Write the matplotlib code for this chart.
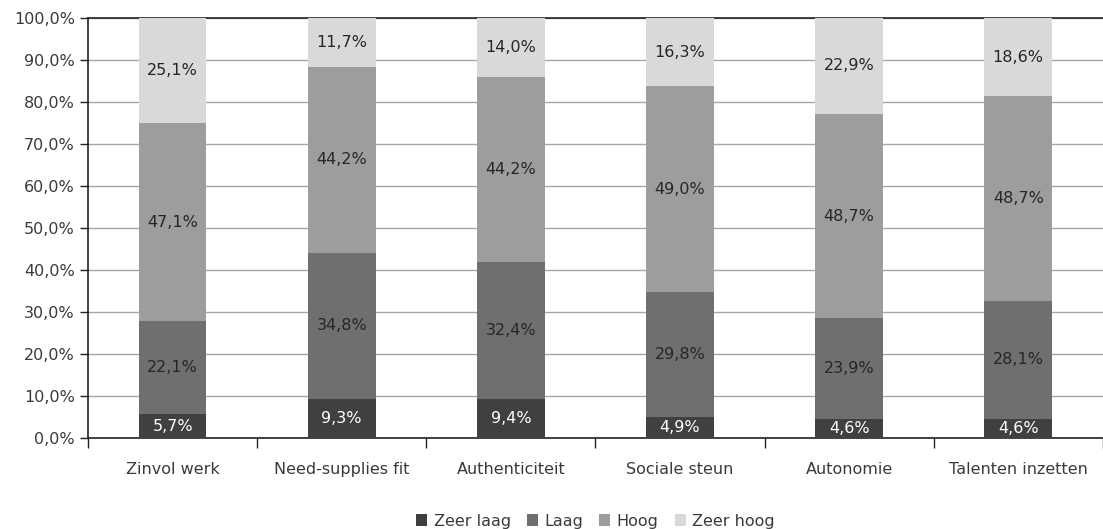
import matplotlib.pyplot as plt
import numpy as np
from matplotlib.ticker import FuncFormatter

# Categorieën en percentages per niveau
categories = ['Zinvol werk', 'Need-supplies fit', 'Authenticiteit',
              'Sociale steun', 'Autonomie', 'Talenten inzetten']
levels = ['Zeer laag', 'Laag', 'Hoog', 'Zeer hoog']
zeer_laag = [5.7, 9.3, 9.4, 4.9, 4.6, 4.6]
laag = [22.1, 34.8, 32.4, 29.8, 23.9, 28.1]
hoog = [47.1, 44.2, 44.2, 49.0, 48.7, 48.7]
zeer_hoog = [25.1, 11.7, 14.0, 16.3, 22.9, 18.6]

colors = ['#404040', '#6f6f6f', '#9d9d9d', '#d9d9d9']
label_colors = ['white', '#262626', '#262626', '#262626']

plt.rcParams['font.family'] = ['DejaVu Sans']
text_color = '#3a3a3a'
fs = 11.5

fig = plt.figure(figsize=(11.03, 5.29), dpi=100)
ax = fig.add_axes([0.0798, 0.172, 0.92, 0.794])

x = np.arange(len(categories))
bottom = np.zeros(len(categories))
for serie, name, col, lcol in zip([zeer_laag, laag, hoog, zeer_hoog], levels, colors, label_colors):
    vals = np.array(serie)
    ax.bar(x, vals, 0.4, bottom=bottom, color=col, label=name, zorder=3)
    for xi, b, v in zip(x, bottom, vals):
        ax.text(xi, b + v / 2, f'{v:.1f}%'.replace('.', ','), ha='center', va='center',
                color=lcol, fontsize=fs, zorder=4)
    bottom += vals

ax.set_xlim(-0.5, len(categories) - 0.5)
ax.set_ylim(0, 100)
ax.set_yticks(np.arange(0, 101, 10))
ax.yaxis.set_major_formatter(FuncFormatter(lambda v, p: f'{v:.1f}%'.replace('.', ',')))
ax.yaxis.grid(True, color='#a6a6a6', linewidth=1, zorder=0)

# categorielabels tussen de tickmarks
ax.set_xticks(x)
ax.set_xticklabels(categories)
ax.set_xticks(np.arange(-0.5, len(categories)), minor=True)
ax.tick_params(axis='x', which='major', length=0, pad=17, labelsize=fs, labelcolor=text_color)
ax.tick_params(axis='x', which='minor', length=7, width=1, direction='out', color='#222222')
ax.tick_params(axis='y', length=6, width=1, color='#222222', labelsize=fs, labelcolor=text_color)

for side in ['left', 'bottom', 'top']:
    ax.spines[side].set_color('#222222')
    ax.spines[side].set_linewidth(1.2)
ax.spines['right'].set_visible(False)

ax.legend(loc='lower center', bbox_to_anchor=(0.5, -0.25), ncol=4, frameon=False,
          handlelength=0.7, handleheight=0.7, handletextpad=0.4, columnspacing=1.0,
          fontsize=fs, labelcolor=text_color)

fig.savefig('out.png', dpi=100)
